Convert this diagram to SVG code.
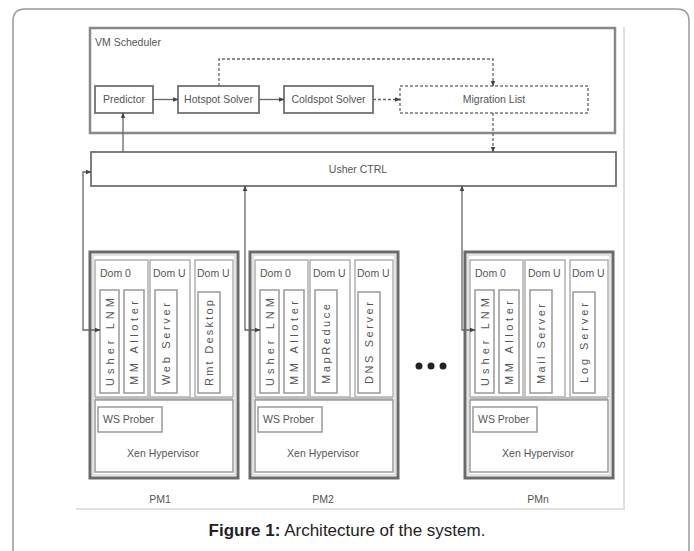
<svg xmlns="http://www.w3.org/2000/svg" width="694" height="551" viewBox="0 0 694 551">
<style>
.t{font-family:"Liberation Sans",Arial,sans-serif;font-size:10.5px;fill:#555}
.tc{text-anchor:middle}
.v{font-size:11px}
.box{fill:#fff;stroke:#707070;stroke-width:1.8}
.dbox{fill:#fff;stroke:#777;stroke-width:1.5;stroke-dasharray:3 2}
.frame{fill:#fff;stroke:#888;stroke-width:2.5}
.pm{fill:#fff;stroke:#6a6a6a;stroke-width:3}
.pmin{fill:none;stroke:#c8c8c8;stroke-width:1}
.dom{fill:#fff;stroke:#b0b0b0;stroke-width:1.5}
.vb{fill:#fff;stroke:#999;stroke-width:1.5}
.xen{fill:#fff;stroke:#9a9a9a;stroke-width:1.5}
.ln{fill:none;stroke:#666;stroke-width:1.3}
.dl{fill:none;stroke:#666;stroke-width:1.3;stroke-dasharray:3 2}
.cap{font-family:"Liberation Sans",Arial,sans-serif;font-size:17px;fill:#222}
</style>
<defs>
<marker id="ah" viewBox="0 0 10 10" refX="9" refY="5" markerWidth="6" markerHeight="6" orient="auto-start-reverse" markerUnits="userSpaceOnUse">
<path d="M0,1 L10,5 L0,9 z" fill="#444"/>
</marker>
<g id="pmbase">
<rect class="pm" x="0" y="0" width="148" height="226"/>
<rect class="pmin" x="3" y="3" width="142" height="220"/>
<rect class="dom" x="5" y="8" width="53" height="137"/>
<rect class="dom" x="60" y="8" width="40" height="137"/>
<rect class="dom" x="105" y="8" width="38" height="137"/>
<text class="t" x="10" y="25">Dom 0</text>
<text class="t" x="63" y="25">Dom U</text>
<text class="t" x="107" y="25">Dom U</text>
<rect class="vb" x="10" y="38" width="19" height="103"/>
<rect class="vb" x="34" y="38" width="20" height="103"/>
<rect class="vb" x="65" y="38" width="22" height="103"/>
<rect class="vb" x="108" y="40" width="22" height="101"/>
<rect x="5" y="145" width="138" height="3" fill="#bbb"/>
<rect class="xen" x="5" y="148" width="138" height="72"/>
<rect class="vb" x="8" y="155" width="64" height="25"/>
<text class="t" x="13" y="171">WS Prober</text>
<text class="t tc" x="73" y="205">Xen Hypervisor</text>
</g>
</defs>
<rect width="694" height="551" fill="#fff"/>
<path d="M13,551 V21 Q13,9 25,9 H677 Q689,9 689,21 V551" fill="none" stroke="#999" stroke-width="1.5"/>
<path d="M624,27 V509 H76" fill="none" stroke="#e0e0e0" stroke-width="2"/>

<g id="vm-scheduler">
<rect class="frame" x="90" y="28" width="525" height="105"/>
<text class="t" x="95" y="46">VM Scheduler</text>
</g>
<g id="predictor">
<rect class="box" x="95" y="86" width="58" height="27"/>
<text class="t tc" x="124" y="103">Predictor</text>
</g>
<g id="hotspot-solver">
<rect class="box" x="178" y="86" width="81" height="27"/>
<text class="t tc" x="218.5" y="103">Hotspot Solver</text>
</g>
<g id="coldspot-solver">
<rect class="box" x="284" y="86" width="89" height="27"/>
<text class="t tc" x="328.5" y="103">Coldspot Solver</text>
</g>
<g id="migration-list">
<rect class="dbox" x="400" y="86" width="188" height="27"/>
<text class="t tc" x="494" y="103">Migration List</text>
</g>
<g id="usher-ctrl">
<rect class="box" x="91" y="152" width="525" height="34" stroke-width="2.5"/>
<text class="t tc" x="358" y="173">Usher CTRL</text>
</g>

<g id="pm1">
<use href="#pmbase" x="90" y="252"/>
<g class="t tc v" lengthAdjust="spacing">
<text transform="translate(113.5,342) rotate(-90)" textLength="88">Usher LNM</text>
<text transform="translate(138,343) rotate(-90)" textLength="84">MM Alloter</text>
<text transform="translate(170,344) rotate(-90)" textLength="82">Web Server</text>
<text transform="translate(213,343) rotate(-90)" textLength="86">Rmt Desktop</text>
</g>
<text class="t tc" x="160" y="503">PM1</text>
</g>
<g id="pm2">
<use href="#pmbase" x="250" y="252"/>
<g class="t tc v">
<text transform="translate(273.5,342) rotate(-90)" textLength="88">Usher LNM</text>
<text transform="translate(298,343) rotate(-90)" textLength="84">MM Alloter</text>
<text transform="translate(330,344) rotate(-90)" textLength="80">MapReduce</text>
<text transform="translate(373,343) rotate(-90)" textLength="82">DNS Server</text>
</g>
<text class="t tc" x="323" y="503">PM2</text>
</g>
<g id="pmn">
<use href="#pmbase" x="465" y="252"/>
<g class="t tc v">
<text transform="translate(488.5,342) rotate(-90)" textLength="88">Usher LNM</text>
<text transform="translate(513,343) rotate(-90)" textLength="84">MM Alloter</text>
<text transform="translate(545,344) rotate(-90)" textLength="80">Mail Server</text>
<text transform="translate(588,343) rotate(-90)" textLength="80">Log Server</text>
</g>
<text class="t tc" x="538" y="503">PMn</text>
</g>
<g id="ellipsis" fill="#222">
<circle cx="419" cy="366" r="3.5"/>
<circle cx="431" cy="366" r="3.5"/>
<circle cx="443" cy="366" r="3.5"/>
</g>

<g id="connectors">
<line class="ln" x1="153" y1="99.5" x2="178" y2="99.5" marker-end="url(#ah)"/>
<line class="ln" x1="259" y1="99.5" x2="284" y2="99.5" marker-end="url(#ah)"/>
<line class="dl" x1="373" y1="99.5" x2="400" y2="99.5" marker-end="url(#ah)"/>
<path class="dl" d="M219,86 V59 H493 V86" marker-end="url(#ah)"/>
<line class="dl" x1="493" y1="113" x2="493" y2="152" marker-end="url(#ah)"/>
<line class="ln" x1="123" y1="152" x2="123" y2="113" marker-end="url(#ah)"/>
<path class="ln" d="M91,172 H83 V330 H100" marker-start="url(#ah)" marker-end="url(#ah)"/>
<path class="ln" d="M245,186 V330 H260" marker-start="url(#ah)" marker-end="url(#ah)"/>
<path class="ln" d="M462,186 V330 H475" marker-start="url(#ah)" marker-end="url(#ah)"/>
</g>

<text class="cap tc" x="347" y="536"><tspan font-weight="bold">Figure 1:</tspan> Architecture of the system.</text>
</svg>
